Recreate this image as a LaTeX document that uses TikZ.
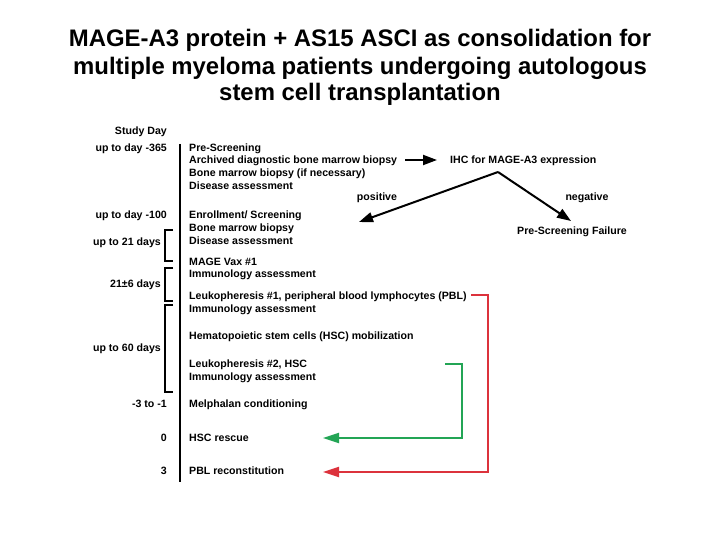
\documentclass[tikz,border=0pt]{standalone}
\usepackage{fontspec}
\setmainfont{Liberation Sans}
\usetikzlibrary{arrows.meta}
\definecolor{arrred}{RGB}{220,50,60}
\definecolor{arrgreen}{RGB}{35,165,85}
\tikzset{
  lbl/.style={inner sep=0pt, text height=7.6pt, text depth=0pt, font=\fontsize{10.6}{12}\selectfont\bfseries},
  rtxt/.style={lbl, anchor=west},
  ltxt/.style={lbl, anchor=east},
  ctxt/.style={lbl, anchor=center},
  ttl/.style={inner sep=0pt, anchor=base, font=\fontsize{23.9}{27}\selectfont\bfseries},
  brk/.style={line width=2pt},
  bigtip/.style={-{Triangle[length=14pt,width=10pt]}, line width=2pt},
  coltip/.style={-{Triangle[length=16pt,width=10pt]}, line width=2pt}
}
\begin{document}
\begin{tikzpicture}[x=1pt,y=-1pt]
\useasboundingbox (0,0) rectangle (720,540);
% title
\node[ttl] (t1) at (360,47) {MAGE-A3 protein + AS15 ASCI as consolidation for};
\node[ttl] (t2) at (360,74.5) {multiple myeloma patients undergoing autologous};
\node[ttl] (t3) at (360,100.5) {stem cell transplantation};
% timeline
\coordinate (ltop) at (180,144);
\coordinate (lbot) at (180,482);
\draw[line width=2.4pt] (ltop) -- (lbot);
% left labels
\node[ltxt] (sd) at (167,131) {Study Day};
\node[ltxt] (d365) at (167,148) {up to day -365};
\node[ltxt] (d100) at (167,215) {up to day -100};
\node[ltxt] (d21) at (161,242) {up to 21 days};
\node[ltxt] (d216) at (161,284) {21±6 days};
\node[ltxt] (d60) at (161,348) {up to 60 days};
\node[ltxt] (d31) at (167,404) {-3 to -1};
\node[ltxt] (d0) at (167,438) {0};
\node[ltxt] (d3) at (167,471) {3};
% brackets
\draw[brk] (173,230) -- (165,230) -- (165,261) -- (173,261);
\draw[brk] (173,268) -- (165,268) -- (165,301) -- (173,301);
\draw[brk] (173,305) -- (165,305) -- (165,392) -- (173,392);
% right texts
\node[rtxt] (pre) at (189,148) {Pre-Screening};
\node[rtxt] (arch) at (189,160) {Archived diagnostic bone marrow biopsy};
\node[rtxt] (bmb1) at (189,173) {Bone marrow biopsy (if necessary)};
\node[rtxt] (dis1) at (189,186) {Disease assessment};
\node[rtxt] (enr) at (189,215) {Enrollment/ Screening};
\node[rtxt] (bmb2) at (189,228) {Bone marrow biopsy};
\node[rtxt] (dis2) at (189,241) {Disease assessment};
\node[rtxt] (vax) at (189,262) {MAGE Vax \#1};
\node[rtxt] (imm1) at (189,274) {Immunology assessment};
\node[rtxt] (leu1) at (189,296) {Leukopheresis \#1, peripheral blood lymphocytes (PBL)};
\node[rtxt] (imm2) at (189,309) {Immunology assessment};
\node[rtxt] (hsc) at (189,336) {Hematopoietic stem cells (HSC) mobilization};
\node[rtxt] (leu2) at (189,364) {Leukopheresis \#2, HSC};
\node[rtxt] (imm3) at (189,377) {Immunology assessment};
\node[rtxt] (mel) at (189,404) {Melphalan conditioning};
\node[rtxt] (resc) at (189,438) {HSC rescue};
\node[rtxt] (pbl) at (189,471) {PBL reconstitution};
% IHC branch
\node[rtxt] (ihc) at (450,160) {IHC for MAGE-A3 expression};
\draw[bigtip, shorten <=8pt, shorten >=13pt] (arch.east) -- (ihc.west |- arch.east);
\coordinate (apex) at (498,172);
\coordinate (posend) at (359,222);
\coordinate (negend) at (571,221);
\draw[bigtip] (apex) -- (posend);
\draw[bigtip] (apex) -- (negend);
\node[ctxt] (pos) at (377,197) {positive};
\node[ctxt] (neg) at (587,197) {negative};
\node[ctxt] (fail) at (572,231) {Pre-Screening Failure};
% red PBL arrow
\coordinate (r1) at (471,295);
\coordinate (r2) at (488,295);
\coordinate (r3) at (488,472);
\coordinate (r4) at (323,472);
\draw[coltip, arrred] (r1) -- (r2) -- (r3) -- (r4);
% green HSC arrow
\coordinate (g1) at (445,364);
\coordinate (g2) at (462,364);
\coordinate (g3) at (462,438);
\coordinate (g4) at (323,438);
\draw[coltip, arrgreen] (g1) -- (g2) -- (g3) -- (g4);
\end{tikzpicture}
\end{document}
